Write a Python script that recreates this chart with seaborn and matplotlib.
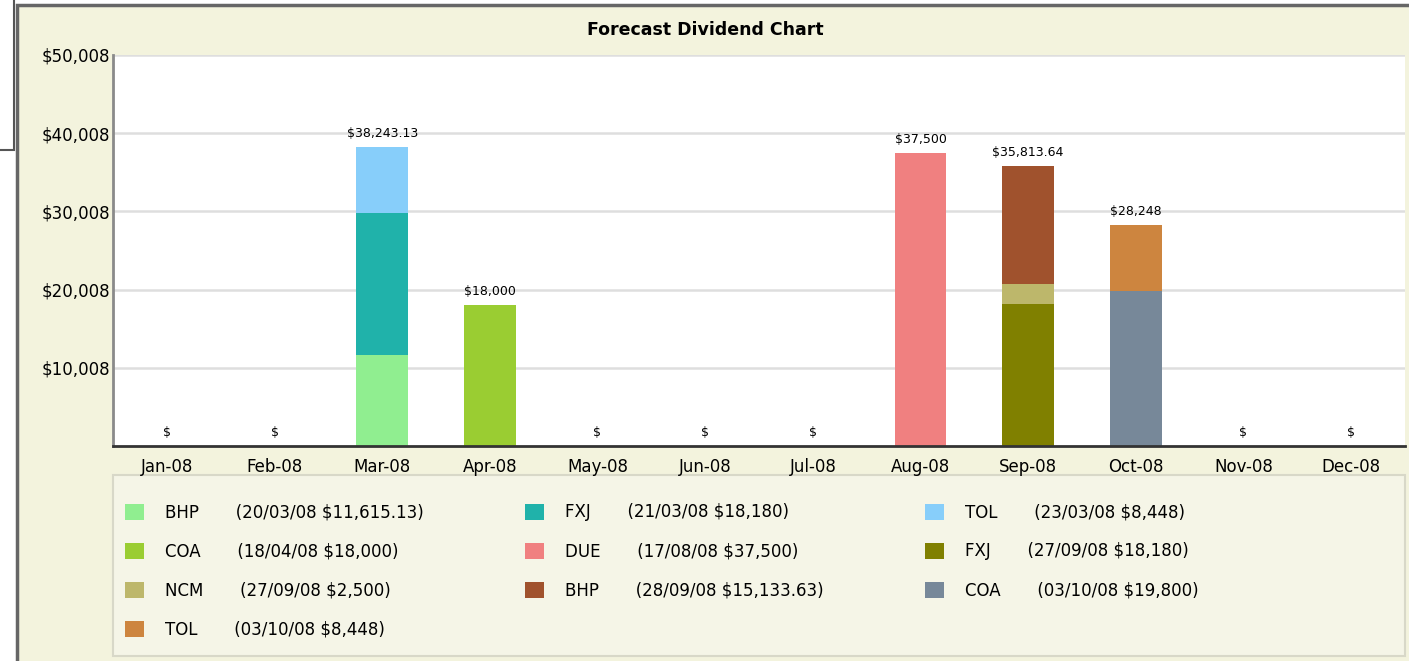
import matplotlib
matplotlib.use("Agg")
import matplotlib.pyplot as plt
from matplotlib.patches import Rectangle, Patch
import pandas as pd
import seaborn as sns

# chart data
months = ["Jan-08", "Feb-08", "Mar-08", "Apr-08", "May-08", "Jun-08",
          "Jul-08", "Aug-08", "Sep-08", "Oct-08", "Nov-08", "Dec-08"]
seg_month = ["Mar-08", "Mar-08", "Mar-08", "Apr-08", "Aug-08",
             "Sep-08", "Sep-08", "Sep-08", "Oct-08", "Oct-08"]
seg_ticker = ["BHP", "FXJ", "TOL", "COA", "DUE", "FXJ", "NCM", "BHP", "COA", "TOL"]
seg_date = ["20/03/08", "21/03/08", "23/03/08", "18/04/08", "17/08/08",
            "27/09/08", "27/09/08", "28/09/08", "03/10/08", "03/10/08"]
seg_amount = [11615.13, 18180, 8448, 18000, 37500, 18180, 2500, 15133.63, 19800, 8448]
seg_amount_text = ["$11,615.13", "$18,180", "$8,448", "$18,000", "$37,500",
                   "$18,180", "$2,500", "$15,133.63", "$19,800", "$8,448"]
seg_colors = ["#90EE90", "#20B2AA", "#87CEFA", "#9ACD32", "#F08080",
              "#808000", "#BDB76B", "#A0522D", "#778899", "#CD853F"]
total_labels = ["$", "$", "$38,243.13", "$18,000", "$", "$", "$",
                "$37,500", "$35,813.64", "$28,248", "$", "$"]
ytick_values = [10000, 20000, 30000, 40000, 50000]
ytick_labels = ["$10,008", "$20,008", "$30,008", "$40,008", "$50,008"]

W, H = 1409, 661
BEIGE = "#F3F3DD"


def fx(px):
    return px / W


def fy(py):
    return 1 - py / H


def main():
    sns.set_style("white")
    plt.rcParams["font.family"] = ["DejaVu Sans"]
    plt.rcParams["text.color"] = "black"
    plt.rcParams["xtick.labelcolor"] = "black"
    plt.rcParams["ytick.labelcolor"] = "black"

    df = pd.DataFrame({
        "month": seg_month,
        "ticker": seg_ticker,
        "date": seg_date,
        "amount": seg_amount,
        "amount_text": seg_amount_text,
        "color": seg_colors,
    })
    df["key"] = [f"{i}" for i in range(len(df))]
    # top of each stacked segment
    df["top"] = df.groupby("month")["amount"].cumsum()
    # tallest first so the lower segments are painted over it
    hue_order = df.sort_values("top", ascending=False)["key"].tolist()
    palette = dict(zip(df["key"], df["color"]))

    fig = plt.figure(figsize=(W / 100, H / 100), dpi=100, facecolor="white")

    # stray box on the far left and beige panel
    fig.patches.append(Rectangle((-0.01, fy(150)), fx(14) + 0.01, 150 / H + 0.01,
                                 transform=fig.transFigure, facecolor="white",
                                 edgecolor="#555555", lw=1.5, zorder=-3))
    fig.patches.append(Rectangle((fx(17), -0.02), 1.0, fy(5) + 0.02,
                                 transform=fig.transFigure, facecolor=BEIGE,
                                 edgecolor="#666666", lw=2.5, zorder=-3))
    # legend box
    fig.patches.append(Rectangle((fx(113), fy(656)), (1405 - 113) / W, (656 - 475) / H,
                                 transform=fig.transFigure, facecolor="#F5F5E7",
                                 edgecolor="#D8D8C8", lw=1.5, zorder=-2))

    ax = fig.add_axes([fx(113), fy(446), (1405 - 113) / W, (446 - 55) / H])
    ax.set_facecolor("white")

    sns.barplot(data=df, x="month", y="top", hue="key", hue_order=hue_order,
                palette=palette, order=months, dodge=False, width=0.48,
                saturation=1, errorbar=None, legend=False, linewidth=0, ax=ax)

    totals = df.groupby("month")["amount"].sum().reindex(months).fillna(0)
    for i, m in enumerate(months):
        ax.annotate(total_labels[i], (i, totals[m]), xytext=(0, 5),
                    textcoords="offset points", ha="center", va="bottom",
                    fontsize=9, color="black")

    ax.set_ylim(0, 50000)
    ax.set_xlim(-0.5, len(months) - 0.5)
    ax.set_yticks(ytick_values)
    ax.set_yticklabels(ytick_labels)
    ax.set_xlabel("")
    ax.set_ylabel("")
    ax.tick_params(axis="y", length=0, pad=2, labelsize=12)
    ax.tick_params(axis="x", length=4, width=1, color="#999999", pad=5, labelsize=12)
    ax.yaxis.grid(True, color="#DEDEDE", lw=1.8)
    ax.set_axisbelow(True)
    for s in ["top", "right"]:
        ax.spines[s].set_visible(False)
    ax.spines["left"].set_color("#8A8A8A")
    ax.spines["left"].set_linewidth(2)
    ax.spines["bottom"].set_color("#333333")
    ax.spines["bottom"].set_linewidth(2)

    fig.text(fx(705), fy(30), "Forecast Dividend Chart", ha="center", va="center",
             fontsize=12.5, fontweight="bold", color="black")

    # legend: three columns, filled row by row
    handles = [Patch(facecolor=c, edgecolor="none") for c in seg_colors]
    labels = [f"{t}       ({d} {a})" for t, d, a in zip(seg_ticker, seg_date, seg_amount_text)]
    col_x = [117, 517, 917]
    for c in range(3):
        idx = list(range(c, len(handles), 3))
        leg = fig.legend([handles[i] for i in idx], [labels[i] for i in idx],
                         loc="upper left", bbox_to_anchor=(fx(col_x[c]), fy(495)),
                         frameon=False, borderpad=0, fontsize=12,
                         handlelength=1.1, handleheight=1.1, handletextpad=1.3,
                         labelspacing=1.26)
        for t in leg.get_texts():
            t.set_color("black")
        leg.set_zorder(3)

    fig.savefig("out.png", dpi=100, facecolor="white")
    plt.close(fig)


if __name__ == "__main__":
    main()
